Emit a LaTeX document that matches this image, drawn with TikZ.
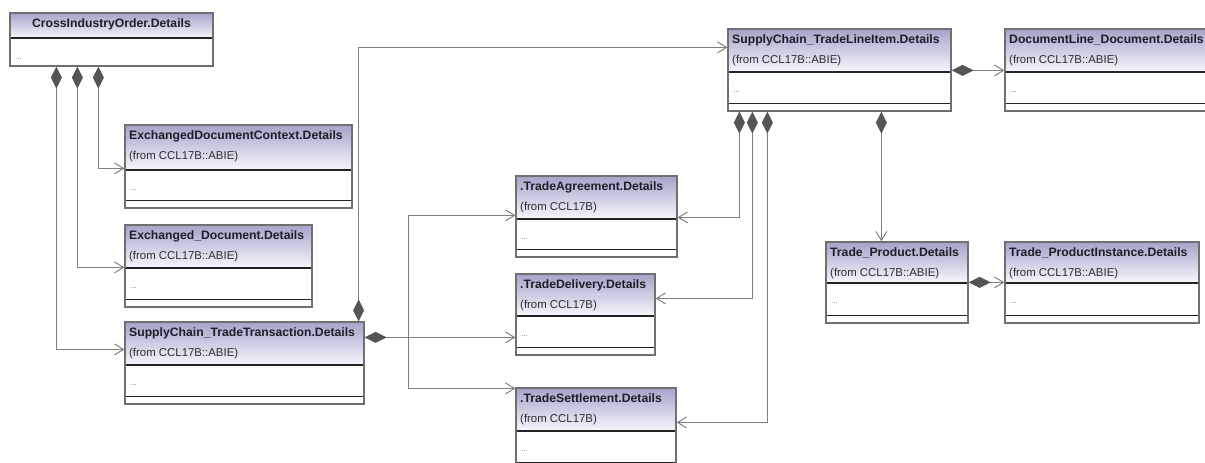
\documentclass[tikz,border=0pt]{standalone}
\usepackage{fontspec}
\usepackage{tikz}
\usepackage{xcolor}
\usetikzlibrary{arrows.meta, positioning, calc, fit}
\setmainfont{Liberation Sans}

\definecolor{headtop}{RGB}{164,164,202}
\definecolor{headbot}{RGB}{247,247,252}
\definecolor{framec}{RGB}{112,112,112}
\definecolor{sepc}{RGB}{35,35,35}
\definecolor{titlec}{RGB}{30,30,40}
\definecolor{fromc}{RGB}{45,45,50}
\definecolor{dotsc}{RGB}{120,120,120}
\definecolor{connc}{RGB}{128,128,128}
\definecolor{diamc}{RGB}{85,85,85}

\tikzset{
	classframe/.style={draw=framec, line width=1.2pt, inner sep=0pt},
	sepline/.style={draw=sepc, line width=1.1pt},
	classtitle/.style={anchor=base west, inner sep=0pt, text=titlec, font=\bfseries\fontsize{12.2}{14}\selectfont},
	classfrom/.style={anchor=base west, inner sep=0pt, text=fromc, font=\fontsize{11.4}{13}\selectfont},
	classdots/.style={anchor=base west, inner sep=0pt, text=dotsc, font=\fontsize{8}{9}\selectfont},
	conn/.style={draw=connc, line width=1pt},
	comp/.style={conn, {Diamond[length=22pt,width=11pt,color=diamc,fill=diamc]}-{Straight Barb[length=9pt,width=11pt]}},
	assoc/.style={conn, -{Straight Barb[length=9pt,width=11pt]}},
}

% class box: name, left, top, right, header bottom, bottom, title, package
\newcommand{\umlclass}[8]{%
	\shade[top color=headtop, bottom color=headbot] (#2,#3) rectangle (#4,#5);
	\draw[sepline] (#2,#5) -- (#4,#5);
	\draw[sepline] (#2,{#6-7.5}) -- (#4,{#6-7.5});
	\node[classframe, fit={(#2,#3) (#4,#6)}] (#1) {};
	\node[classtitle] (#1-title) at ({#2+4},{#3+14.5}) {#7};
	\node[classfrom] (#1-from) at ({#2+4},{#3+34}) {#8};
	\node[classdots] (#1-dots) at ({#2+5},{#5+20}) {...};
}

\begin{document}
\begin{tikzpicture}[x=1pt, y=-1pt]
		\clip (0,0) rectangle (1205,463);

		% Root
		\shade[top color=headtop, bottom color=headbot] (10,13) rectangle (213,38);
		\draw[sepline] (10,38) -- (213,38);
		\node[classframe, fit={(10,13) (213,66)}] (cio) {};
		\node[classtitle, anchor=base] (cio-title) at (111.5,27.5) {CrossIndustryOrder.Details};
		\node[classdots] (cio-dots) at (15,59) {...};

		% Classes
		\umlclass{ctx}{125}{125}{352}{170}{208}{ExchangedDocumentContext.Details}{(from CCL17B::ABIE)}
		\umlclass{exd}{125}{225}{312}{268}{307}{Exchanged\_Document.Details}{(from CCL17B::ABIE)}
		\umlclass{tt}{125}{322}{364}{365}{404}{SupplyChain\_TradeTransaction.Details}{(from CCL17B::ABIE)}
		\umlclass{agr}{516}{176}{677}{219}{257}{.TradeAgreement.Details}{(from CCL17B)}
		\umlclass{del}{516}{274}{655}{316}{355}{.TradeDelivery.Details}{(from CCL17B)}
		\umlclass{set}{516}{388}{676}{431}{470}{.TradeSettlement.Details}{(from CCL17B)}
		\umlclass{li}{728}{29}{951}{72}{111}{SupplyChain\_TradeLineItem.Details}{(from CCL17B::ABIE)}
		\umlclass{dld}{1005}{29}{1215}{72}{111}{DocumentLine\_Document.Details}{(from CCL17B::ABIE)}
		\umlclass{tp}{826}{242}{968}{283}{323}{Trade\_Product.Details}{(from CCL17B::ABIE)}
		\umlclass{tpi}{1005}{242}{1199}{283}{323}{Trade\_ProductInstance.Details}{(from CCL17B::ABIE)}

		% Compositions from the root
		\draw[comp] ($(cio.south west)+(47,0)$) |- ($(tt.north west)+(0,28)$);
		\draw[comp] ($(cio.south west)+(68,0)$) |- ($(exd.north west)+(0,43)$);
		\draw[comp] ($(cio.south west)+(89,0)$) |- ($(ctx.north west)+(0,44)$);

		% Trade transaction
		\draw[comp] ($(tt.north east)+(-6,0)$) |- ($(li.north west)+(0,19)$);
		\draw[comp] ($(tt.north east)+(0,16)$) -- ($(del.north west)+(0,64)$);
		\coordinate (ttfork) at ($(tt.north east)+(44,16)$);
		\draw[assoc] (ttfork) |- ($(agr.north west)+(0,40)$);
		\draw[assoc] (ttfork) |- ($(set.north west)+(0,1)$);

		% Line item
		\draw[comp] ($(li.south west)+(12,0)$) |- ($(agr.north east)+(0,42)$);
		\draw[comp] ($(li.south west)+(25,0)$) |- ($(del.north east)+(0,25)$);
		\draw[comp] ($(li.south west)+(40,0)$) |- ($(set.north east)+(0,35)$);
		\draw[comp] ($(li.south west)+(154,0)$) -- ($(tp.north west)+(56,0)$);
		\draw[comp] ($(li.north east)+(0,42)$) -- ($(dld.north west)+(0,42)$);

		% Product
		\draw[comp] ($(tp.north east)+(0,41)$) -- ($(tpi.north west)+(0,41)$);
	\end{tikzpicture}
\end{document}
